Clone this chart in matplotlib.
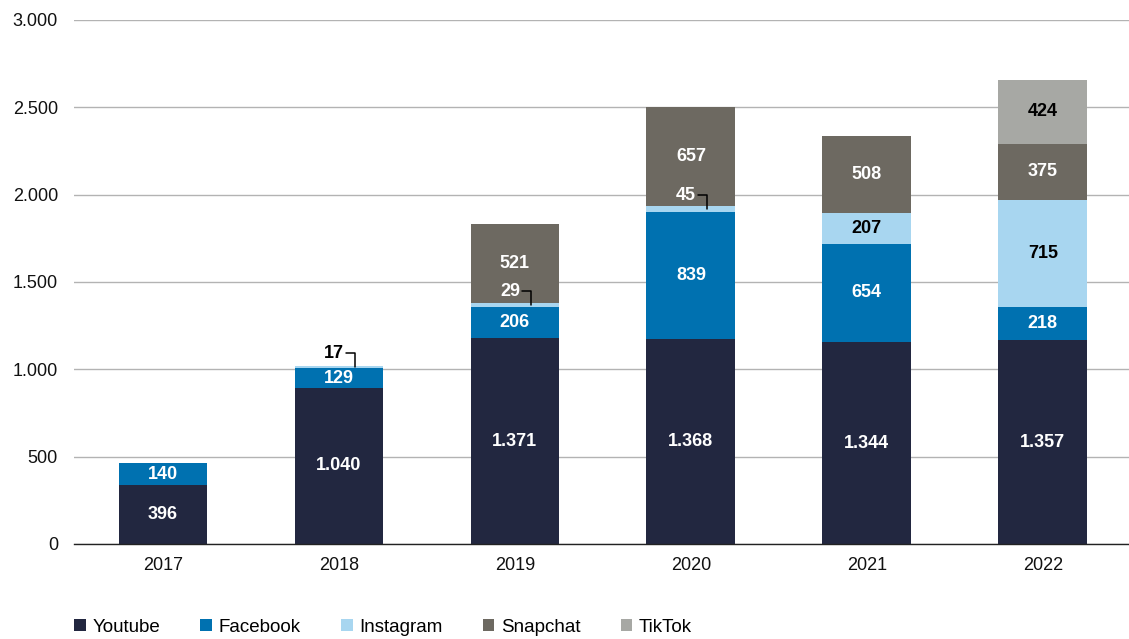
import matplotlib
matplotlib.use("Agg")
import matplotlib.pyplot as plt
from matplotlib.patches import Patch
import numpy as np

years = ["2017", "2018", "2019", "2020", "2021", "2022"]
series_names = ["Youtube", "Facebook", "Instagram", "Snapchat", "TikTok"]
youtube = [396, 1040, 1371, 1368, 1344, 1357]
facebook = [140, 129, 206, 839, 654, 218]
instagram = [0, 17, 29, 45, 207, 715]
snapchat = [0, 0, 521, 657, 508, 375]
tiktok = [0, 0, 0, 0, 0, 424]
y_ticks = [0, 500, 1000, 1500, 2000, 2500, 3000]

# the bars in the reference are drawn at this fraction of the labelled values
bar_scale = 0.86

colors = ["#222740", "#0071b0", "#a8d6f0", "#6d6961", "#a7a8a4"]
label_colors = ["white", "white", "black", "white", "black"]

plt.rcParams["font.family"] = ["Liberation Sans", "DejaVu Sans"]

fig = plt.figure(figsize=(11.29, 6.39), dpi=100)
ax = fig.add_axes([74 / 1129, 1 - 544 / 639, 1 - 74 / 1129, (544 - 20) / 639])

def fmt(v):
    return f"{v:,}".replace(",", ".")

data = [youtube, facebook, instagram, snapchat, tiktok]
x = np.arange(len(years))
bottom = np.zeros(len(years))
small_threshold = 60
for s, vals in enumerate(data):
    vals = np.array(vals, dtype=float)
    h = vals * bar_scale
    ax.bar(x, h, width=0.505, bottom=bottom, color=colors[s], zorder=3,
           linewidth=0)
    for i, v in enumerate(vals):
        if v <= 0:
            continue
        mid = bottom[i] + h[i] / 2
        if v < small_threshold:
            # small label with bracket leader
            is_top = (i == 1)
            tcol = "black" if is_top else "white"
            end = (x[i] + 0.09, mid)
            ax.annotate(fmt(int(v)), xy=end, xytext=(-15, 10),
                        textcoords="offset points", ha="center", va="center",
                        fontsize=13, fontweight="bold", color=tcol, zorder=5)
            ax.annotate("", xy=end,
                        xytext=(-6, 10), textcoords="offset points",
                        arrowprops=dict(arrowstyle="-", color="black", lw=1.1,
                                        shrinkA=0, shrinkB=0,
                                        connectionstyle="angle,angleA=0,angleB=90,rad=0"),
                        zorder=5)
        else:
            ax.text(x[i], mid, fmt(int(v)), ha="center", va="center",
                    fontsize=13, fontweight="bold", color=label_colors[s],
                    zorder=5)
    bottom = bottom + h

ax.set_ylim(0, 3000)
ax.set_xlim(-0.506, 5.49)
ax.set_yticks(y_ticks)
ax.set_yticklabels([fmt(t) for t in y_ticks])
ax.set_xticks(x)
ax.set_xticklabels(years)
ax.tick_params(axis="both", length=0, labelsize=13, colors="#111111")
ax.tick_params(axis="y", pad=11.5)
ax.tick_params(axis="x", pad=9)
ax.grid(axis="y", color="#b3b3b3", linewidth=1.0, zorder=0)
for side in ["top", "right", "left"]:
    ax.spines[side].set_visible(False)
ax.spines["bottom"].set_color("#222222")
ax.spines["bottom"].set_linewidth(1.0)
ax.spines["bottom"].set_zorder(4)

handles = [Patch(facecolor=c, edgecolor="none", label=n) for c, n in zip(colors, series_names)]
fig.legend(handles=handles, loc="center left", bbox_to_anchor=(74 / 1129, 1 - 627 / 639),
           ncol=5, frameon=False, fontsize=13.5, handlelength=0.62, handleheight=0.62,
           handletextpad=0.35, columnspacing=2.15, borderaxespad=0, borderpad=0)

fig.savefig("out.png", dpi=100)
